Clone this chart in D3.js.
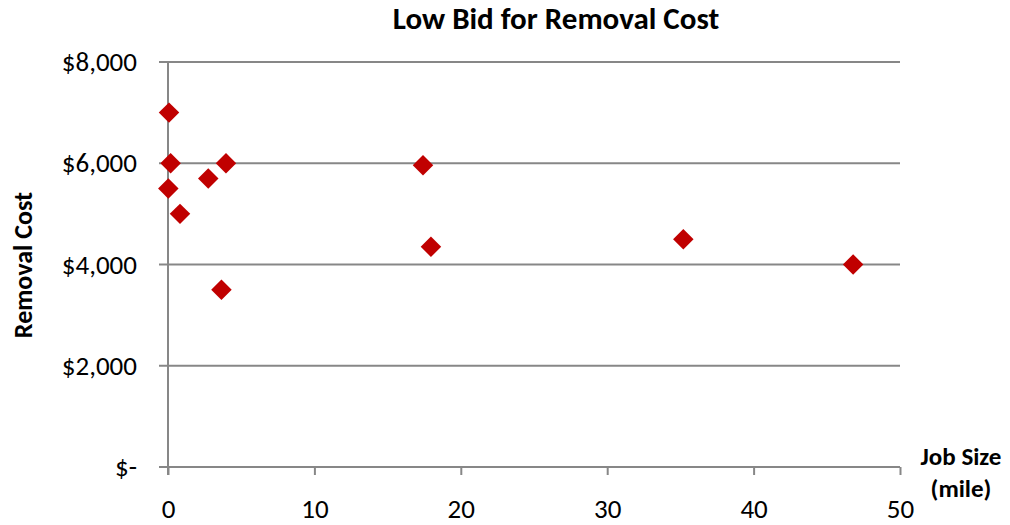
<!DOCTYPE html>
<html>
<head>
<meta charset="utf-8">
<script src="https://cdn.jsdelivr.net/npm/d3@7"></script>
<style>
  html, body { margin: 0; padding: 0; background: #fff; }
  svg { display: block; font-family: Carlito, Calibri, Lato, "Open Sans", sans-serif; }
</style>
</head>
<body>
<svg id="chart" width="1010" height="525"></svg>
<script>
// ---- data ----
const jobSize     = [0.07, 0.18, 0.02, 0.82, 2.75, 3.96, 3.65, 17.42, 17.96, 35.2, 46.8];
const removalCost = [7000, 6000, 5500, 5000, 5700, 6000, 3500, 5960, 4350, 4500, 4000];
const xTickValues = [0, 10, 20, 30, 40, 50];
const xTickLabels = ["0", "10", "20", "30", "40", "50"];
const yTickValues = [0, 2000, 4000, 6000, 8000];
const yTickLabels = ["$-", "$2,000", "$4,000", "$6,000", "$8,000"];
const chartTitle  = "Low Bid for Removal Cost";
const yTitle      = "Removal Cost";
const xTitleLines = ["Job Size", "(mile)"];

(function () {
const points = jobSize.map((x, i) => ({ x, y: removalCost[i] }));

const svg = d3.select("#chart");
const pLeft = 168, pRight = 900, pTop = 62, pBottom = 467;
const gridColor = "#878787";

const x = d3.scaleLinear().domain([0, 50]).range([pLeft, pRight]);
const y = d3.scaleLinear().domain([0, 8000]).range([pBottom, pTop]);

// horizontal gridlines (incl. y-axis ticks to the left)
svg.append("g").selectAll("line")
  .data(yTickValues)
  .join("line")
  .attr("x1", pLeft - 9).attr("x2", pRight)
  .attr("y1", d => y(d)).attr("y2", d => y(d))
  .attr("stroke", gridColor).attr("stroke-width", 2);

// y axis line
svg.append("line")
  .attr("x1", pLeft).attr("x2", pLeft)
  .attr("y1", pTop).attr("y2", pBottom + 8)
  .attr("stroke", gridColor).attr("stroke-width", 2);

// x axis with ticks
const xAxis = d3.axisBottom(x)
  .tickValues(xTickValues)
  .tickFormat((d, i) => xTickLabels[i])
  .tickSize(8)
  .tickSizeOuter(0)
  .tickPadding(24);
const gx = svg.append("g").attr("transform", `translate(0,${pBottom})`).call(xAxis);
gx.select(".domain").remove();
gx.attr("font-family", null).attr("font-size", null);
gx.selectAll(".tick line").attr("stroke", gridColor).attr("stroke-width", 2);
gx.selectAll(".tick text")
  .attr("fill", "#000")
  .style("font-size", "27px");

// y tick labels via axisLeft (lines hidden; gridlines drawn above)
const yAxis = d3.axisLeft(y)
  .tickValues(yTickValues)
  .tickFormat((d, i) => yTickLabels[i])
  .tickSize(0)
  .tickPadding(31);
const gy = svg.append("g").attr("transform", `translate(${pLeft},0)`).call(yAxis);
gy.select(".domain").remove();
gy.attr("font-family", null).attr("font-size", null);
gy.selectAll(".tick text")
  .attr("fill", "#000")
  .style("font-size", "27px");

// title
svg.append("text")
  .attr("x", 556).attr("y", 29)
  .attr("text-anchor", "middle")
  .style("font-size", "31px").style("font-weight", "bold")
  .text(chartTitle);

// y title
svg.append("text")
  .attr("transform", "translate(32,265) rotate(-90)")
  .attr("text-anchor", "middle")
  .style("font-size", "26px").style("font-weight", "bold")
  .text(yTitle);

// x title (two lines)
svg.append("g").selectAll("text")
  .data(xTitleLines)
  .join("text")
  .attr("x", 961)
  .attr("y", (d, i) => 465 + i * 32)
  .attr("text-anchor", "middle")
  .style("font-size", "25px").style("font-weight", "bold")
  .text(d => d);

// points (diamonds)
const diamond = d3.symbol().type(d3.symbolSquare).size(210);
svg.append("g").selectAll("path")
  .data(points)
  .join("path")
  .attr("d", diamond)
  .attr("transform", d => `translate(${x(d.x)},${y(d.y)}) rotate(45)`)
  .attr("fill", "#C00000");
})();
</script>
</body>
</html>
